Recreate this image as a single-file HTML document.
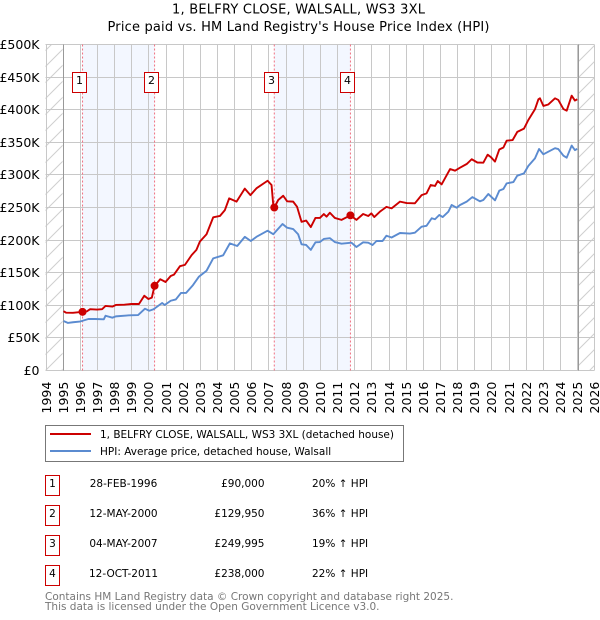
<!DOCTYPE html>
<html lang="en">
<head>
<meta charset="utf-8">
<title>1, BELFRY CLOSE, WALSALL, WS3 3XL</title>
<style>
html,body{margin:0;padding:0;background:#fff;}
body{width:600px;height:620px;overflow:hidden;position:relative;font-family:"DejaVu Sans","Liberation Sans",sans-serif;}
svg{position:absolute;left:0;top:0;}
svg text{font-family:"DejaVu Sans","Liberation Sans",sans-serif;}
</style>
</head>
<body>
<svg id="chart" width="600" height="620" viewBox="0 0 600 620">
<defs>
<pattern id="hatch" patternUnits="userSpaceOnUse" width="16" height="16">
<path d="M-2 18 L18 -2 M-2 2 L2 -2 M14 18 L18 14" stroke="#cfcfcf" stroke-width="1" fill="none"/>
</pattern>
</defs>
<text x="298.5" y="13.3" text-anchor="middle" font-size="13" textLength="253" lengthAdjust="spacing" fill="#000">1, BELFRY CLOSE, WALSALL, WS3 3XL</text>
<text x="298.5" y="31" text-anchor="middle" font-size="13" textLength="382" lengthAdjust="spacing" fill="#000">Price paid vs. HM Land Registry's House Price Index (HPI)</text>
<g id="plot"></g>

<g>
<rect x="45.5" y="425.5" width="358" height="36" fill="#fff" stroke="#777" stroke-width="1"/>
<line x1="50" x2="91" y1="434" y2="434" stroke="#cc0000" stroke-width="2"/>
<text x="100" y="438" font-size="10.5" textLength="294" lengthAdjust="spacing">1, BELFRY CLOSE, WALSALL, WS3 3XL (detached house)</text>
<line x1="50" x2="91" y1="451" y2="451" stroke="#5b8bd0" stroke-width="2"/>
<text x="100" y="455" font-size="10.5">HPI: Average price, detached house, Walsall</text>
</g>

<g font-size="10.5">
<g>
<rect x="45.5" y="475.5" width="14" height="20" fill="#fff" stroke="#cc0000"/>
<text x="52.5" y="487" text-anchor="middle">1</text>
<text x="123.5" y="487" text-anchor="middle">28-FEB-1996</text>
<text x="264.5" y="487" text-anchor="end">£90,000</text>
<text x="312" y="487">20% ↑ HPI</text>
</g>
<g>
<rect x="45.5" y="505.5" width="14" height="20" fill="#fff" stroke="#cc0000"/>
<text x="52.5" y="517" text-anchor="middle">2</text>
<text x="123.5" y="517" text-anchor="middle">12-MAY-2000</text>
<text x="264.5" y="517" text-anchor="end">£129,950</text>
<text x="312" y="517">36% ↑ HPI</text>
</g>
<g>
<rect x="45.5" y="535.5" width="14" height="20" fill="#fff" stroke="#cc0000"/>
<text x="52.5" y="547" text-anchor="middle">3</text>
<text x="123.5" y="547" text-anchor="middle">04-MAY-2007</text>
<text x="264.5" y="547" text-anchor="end">£249,995</text>
<text x="312" y="547">19% ↑ HPI</text>
</g>
<g>
<rect x="45.5" y="565.5" width="14" height="20" fill="#fff" stroke="#cc0000"/>
<text x="52.5" y="577" text-anchor="middle">4</text>
<text x="123.5" y="577" text-anchor="middle">12-OCT-2011</text>
<text x="264.5" y="577" text-anchor="end">£238,000</text>
<text x="312" y="577">22% ↑ HPI</text>
</g>
</g>

<text x="45" y="600" font-size="10.5" fill="#777">Contains HM Land Registry data © Crown copyright and database right 2025.</text>
<text x="45" y="610" font-size="10.5" fill="#777">This data is licensed under the Open Government Licence v3.0.</text>
</svg>
<script>
const yearTicks = [1994,1995,1996,1997,1998,1999,2000,2001,2002,2003,2004,2005,2006,2007,2008,2009,2010,2011,2012,2013,2014,2015,2016,2017,2018,2019,2020,2021,2022,2023,2024,2025,2026];
const valueTicks = [0,50,100,150,200,250,300,350,400,450,500];
const valueTickLabels = ['£0','£50K','£100K','£150K','£200K','£250K','£300K','£350K','£400K','£450K','£500K'];
const dataStart = 1995.0;
const dataEnd = 2025.05;
const saleDates = [1996.16,2000.36,2007.34,2011.78];
const saleValues = [90,129.95,249.995,238];
const saleLabels = ['1','2','3','4'];
const priceDates = [1995.05,1995.2,1995.6,1996.16,1996.4,1996.6,1997,1997.3,1997.5,1997.9,1998.1,1998.6,1999,1999.45,1999.76,2000,2000.2,2000.36,2000.5,2000.69,2001,2001.3,2001.49,2001.84,2002.13,2002.52,2002.8,2003,2003.39,2003.78,2004.17,2004.46,2004.71,2005.14,2005.62,2005.95,2006.3,2006.95,2007.18,2007.28,2007.34,2007.57,2007.86,2008.09,2008.44,2008.67,2008.93,2009.2,2009.47,2009.74,2010,2010.23,2010.39,2010.58,2010.87,2011.26,2011.78,2012.13,2012.52,2012.82,2013,2013.17,2013.5,2013.88,2014.18,2014.67,2015.06,2015.54,2015.93,2016.22,2016.46,2016.71,2016.87,2017.1,2017.59,2017.88,2018.17,2018.56,2018.85,2019.18,2019.53,2019.78,2019.98,2020.21,2020.46,2020.7,2020.89,2021.24,2021.51,2021.9,2022.15,2022.54,2022.74,2022.83,2023.03,2023.32,2023.71,2023.9,2024.2,2024.39,2024.68,2024.87,2025.01];
const priceValues = [91,88.6,88.5,90,90.5,94,93.5,94,99,98,100.5,101,102,102,114.7,109.6,111.7,130,134,140,135.7,145,147,160,162,177,185,197.6,209,235,237,246,264,259,279,269,279.4,291,284.5,254,250,261.5,268,259.5,259,251,228,230,220,234,234,240,236,242,234,231,238,231,240,237,241,235.4,243.6,251,248.7,259,256.8,256.4,269,271.7,284.5,283,290.6,285.5,309,306.5,311,316.7,324,319,318.7,331,327,320.4,339,342,352.5,353.5,366,371,384,400.6,416,417.5,405.8,408,417.5,415,401,398.5,421.5,414,416];
const hpiDates = [1995.05,1995.3,1995.6,1996,1996.5,1996.9,1997.4,1997.5,1997.9,1998.1,1998.9,1999.4,1999.8,2000.05,2000.3,2000.8,2000.95,2001.3,2001.6,2001.9,2002.2,2002.6,2002.95,2003.39,2003.78,2004.36,2004.75,2005.18,2005.62,2005.97,2006.3,2006.95,2007.28,2007.82,2008.09,2008.44,2008.73,2008.93,2009.2,2009.47,2009.74,2010,2010.23,2010.58,2010.87,2011.26,2011.84,2012.13,2012.52,2012.82,2013.07,2013.3,2013.65,2013.88,2014.18,2014.67,2015.25,2015.54,2015.93,2016.22,2016.52,2016.71,2016.96,2017.16,2017.49,2017.68,2017.97,2018.17,2018.56,2018.89,2019.33,2019.53,2019.82,2020.21,2020.46,2020.7,2020.89,2021.28,2021.51,2021.9,2022.15,2022.54,2022.78,2023.03,2023.32,2023.71,2023.9,2024.2,2024.39,2024.68,2024.87,2025.01];
const hpiValues = [76,73,74,75,79,79,78.5,84,81,83,84.7,85,94.8,91.7,94,103.5,100.5,107,109,119,119,131,144,153,172,176.7,195,191,205,198.6,205,214.4,209,224.7,219,217,209,193.5,192.5,185,196.6,197,201.7,203,197,194.5,196,189.4,196.6,196,192.5,198.6,198.6,206.7,204,210.9,210,211.4,220.6,222,233.5,232,238.5,235.4,243.6,253.8,249.7,253.8,259,266,259.5,261.5,270.7,261,275.8,278.4,287,289,298.8,302.4,313.7,325.4,339.7,331.6,335.6,341,339.7,329.5,326.4,345,338,340];

const NS = 'http://www.w3.org/2000/svg';
const plot = document.getElementById('plot');
const xLeft = 45.5, xRight = 594.3, yTop = 44.5, yBottom = 370.5;
function xScale(t){ return xLeft + (t - yearTicks[0]) * (xRight - xLeft) / (yearTicks[yearTicks.length-1] - yearTicks[0]); }
function yScale(v){ return yBottom - v * (yBottom - yTop) / valueTicks[valueTicks.length-1]; }
function add(tag, attrs, text){
  const el = document.createElementNS(NS, tag);
  for (const k in attrs) el.setAttribute(k, attrs[k]);
  if (text !== undefined) el.textContent = text;
  plot.appendChild(el);
  return el;
}
function linePath(ts, vs){
  return ts.map(function(t,i){ return (i ? 'L' : 'M') + xScale(t).toFixed(2) + ' ' + yScale(vs[i]).toFixed(2); }).join(' ');
}

/* shaded sale intervals */
[[0,1],[2,3]].forEach(function(p, i){
  const band = add('rect', {x:xScale(saleDates[p[0]]), y:yTop, width:xScale(saleDates[p[1]])-xScale(saleDates[p[0]]), height:yBottom-yTop, fill:'#f3f7ff'});
  
  
});

/* hatched out-of-range regions */
const hatchLeft = add('rect', {x:xLeft, y:yTop, width:xScale(dataStart)-xLeft, height:yBottom-yTop, fill:'url(#hatch)'});


const hatchRight = add('rect', {x:xScale(dataEnd), y:yTop, width:xRight-xScale(dataEnd), height:yBottom-yTop, fill:'url(#hatch)'});



/* grid and tick labels */
yearTicks.forEach(function(yr){
  const x = Math.round(xScale(yr)) + 0.5;
  const g = add('line', {x1:x, x2:x, y1:yTop, y2:yBottom, stroke:'#c8c8c8', 'stroke-width':1});
  
  
  const t = add('text', {x:x+4.5, y:413.5, 'font-size':12.5, fill:'#000', transform:'rotate(-90 '+(x+4.5)+' 413.5)'}, String(yr));
  
  
});
valueTicks.forEach(function(v, i){
  const y = Math.round(yScale(v) - 0.5) + 0.5;
  const g = add('line', {x1:xLeft, x2:xRight, y1:y, y2:y, stroke:'#c8c8c8', 'stroke-width':1});
  
  
  const t = add('text', {x:39.5, y:y+4.5, 'font-size':12.5, 'text-anchor':'end', fill:'#000'}, valueTickLabels[i]);
  
  
});

/* data range limits */
[dataStart, dataEnd].forEach(function(t){
  const x = Math.round(xScale(t)) + 0.5;
  const l = add('line', {x1:x, x2:x, y1:yTop, y2:yBottom, stroke:'#999', 'stroke-width':1});
  
  
});

/* sale verticals */
saleDates.forEach(function(t){
  const x = xScale(t);
  const l = add('line', {x1:x, x2:x, y1:yTop, y2:yBottom, stroke:'#f07080', 'stroke-width':1, 'stroke-dasharray':'2 2'});
  
  
});

/* series */
const hpiLine = add('path', {d:linePath(hpiDates, hpiValues), fill:'none', stroke:'#5b8bd0', 'stroke-width':1.9, 'stroke-linejoin':'round'});


const priceLine = add('path', {d:linePath(priceDates, priceValues), fill:'none', stroke:'#cc0000', 'stroke-width':1.9, 'stroke-linejoin':'round'});



/* sale points and number badges */
saleDates.forEach(function(t, i){
  const x = xScale(t);
  const dot = add('circle', {cx:x, cy:yScale(saleValues[i]), r:4, fill:'#cc0000'});
  
  
  const bx = Math.round(x - 9.7) - 0.5;
  const box = add('rect', {x:bx, y:72.5, width:14, height:20, fill:'#fff', stroke:'#cc0000', 'stroke-width':1});
  
  
  const num = add('text', {x:bx+7, y:84, 'font-size':11, 'text-anchor':'middle', fill:'#000'}, saleLabels[i]);
  
  
});
</script>
</body>
</html>
